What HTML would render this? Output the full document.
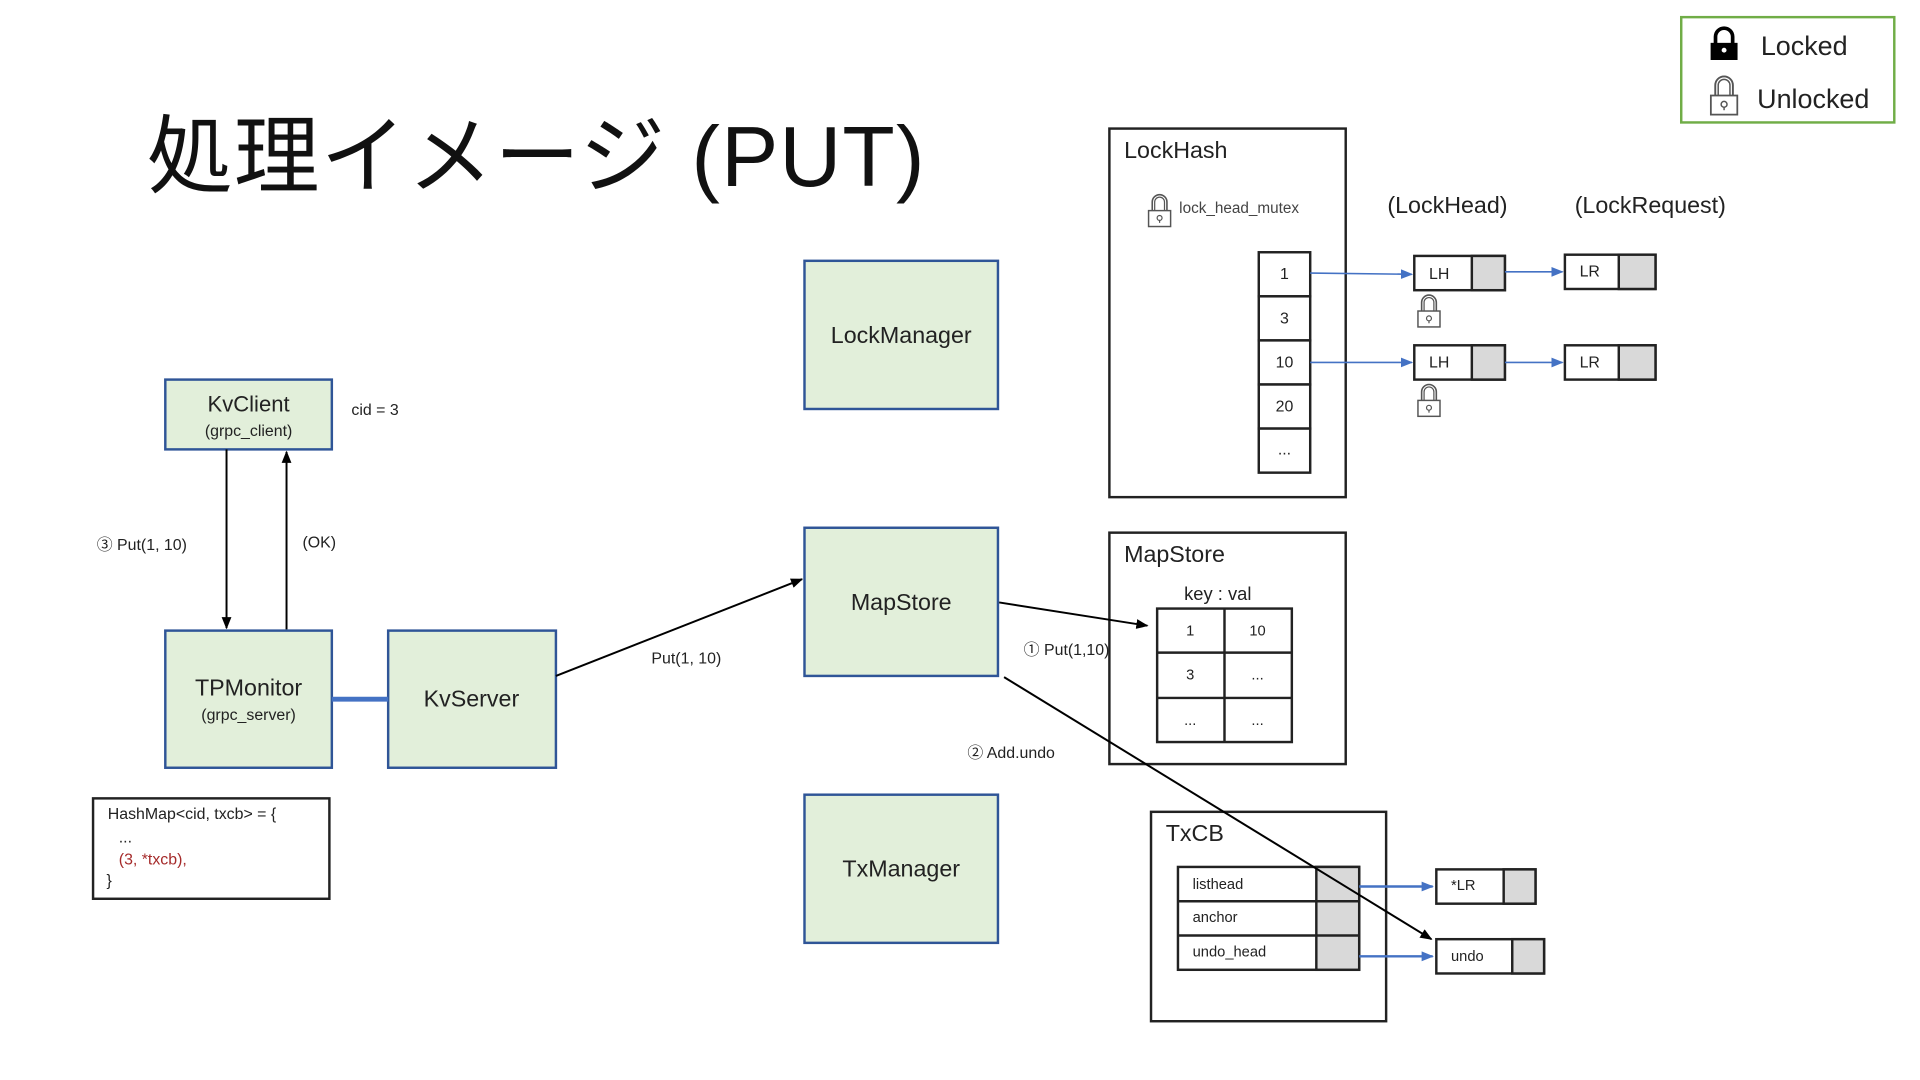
<!DOCTYPE html>
<html><head><meta charset="utf-8"><style>
html,body{margin:0;padding:0;background:#fff;width:1920px;height:1080px;overflow:hidden}
svg{display:block}
text{font-family:"Liberation Sans","Noto Sans CJK JP",sans-serif;fill:#222}
</style></head><body>
<svg width="1920" height="1080" viewBox="0 0 1568 882" xmlns="http://www.w3.org/2000/svg">
<defs>
<marker id="ab" markerWidth="10" markerHeight="10" refX="9" refY="5" orient="auto" markerUnits="userSpaceOnUse"><path d="M0,1 L10,5 L0,9 z" fill="#000"/></marker>
<marker id="abl" markerWidth="10" markerHeight="10" refX="9" refY="5" orient="auto" markerUnits="userSpaceOnUse"><path d="M0,1 L10,5 L0,9 z" fill="#4472c4"/></marker>
<g id="lk"><path d="M-6,0 V-7 A6,6 0 0 1 6,-7 V0" fill="none" stroke="#555" stroke-width="1.3"/><path d="M-4,0 V-7 A4,4 0 0 1 4,-7 V0" fill="none" stroke="#555" stroke-width="1"/><rect x="-9" y="0" width="18" height="13" fill="#fff" stroke="#555" stroke-width="1.2"/><circle cx="0" cy="6" r="2" fill="none" stroke="#555"/><line x1="0" y1="8" x2="0" y2="10" stroke="#555"/></g>
</defs>

<rect x="1373" y="14" width="174" height="86" fill="#fff" stroke="#70ad47" stroke-width="2"/>
<path d="M1401,36 V30 A7,7 0 0 1 1415,30 V36" fill="none" stroke="#000" stroke-width="3"/>
<rect x="1397" y="35" width="22" height="14" fill="#000"/>
<circle cx="1408" cy="41" r="2" fill="#fff"/>
<text x="1438" y="45" font-size="22">Locked</text>
<use href="#lk" x="1408" y="78" transform="translate(1408 78) scale(1.2) translate(-1408 -78)"/>
<text x="1435" y="88" font-size="22">Unlocked</text>

<text x="120" y="152" font-size="70" style="fill:#111" textLength="635">処理イメージ (PUT)</text>

<rect x="906" y="105" width="193" height="301" fill="#fff" stroke="#222" stroke-width="2"/>
<text x="918" y="129" font-size="19">LockHash</text>
<use href="#lk" x="947" y="172"/>
<text x="963" y="174" font-size="12.5" style="fill:#444">lock_head_mutex</text>
<g stroke="#222" stroke-width="2" fill="#fff">
<rect x="1028" y="206" width="42" height="36"/><rect x="1028" y="242" width="42" height="36"/><rect x="1028" y="278" width="42" height="36"/><rect x="1028" y="314" width="42" height="36"/><rect x="1028" y="350" width="42" height="36"/>
</g>
<g font-size="13" text-anchor="middle"><text x="1049" y="228">1</text><text x="1049" y="264">3</text><text x="1049" y="300">10</text><text x="1049" y="336">20</text><text x="1049" y="371">...</text></g>
<text x="1133" y="174" font-size="19">(LockHead)</text>
<text x="1286" y="174" font-size="19">(LockRequest)</text>
<g stroke="#222" stroke-width="2">
<rect x="1155" y="209" width="74" height="28" fill="#fff"/><rect x="1202" y="209" width="27" height="28" fill="#d9d9d9"/>
<rect x="1155" y="282" width="74" height="28" fill="#fff"/><rect x="1202" y="282" width="27" height="28" fill="#d9d9d9"/>
<rect x="1278" y="208" width="74" height="28" fill="#fff"/><rect x="1322" y="208" width="30" height="28" fill="#d9d9d9"/>
<rect x="1278" y="282" width="74" height="28" fill="#fff"/><rect x="1322" y="282" width="30" height="28" fill="#d9d9d9"/>
</g>
<g font-size="13"><text x="1167" y="228">LH</text><text x="1167" y="300">LH</text><text x="1290" y="226">LR</text><text x="1290" y="300">LR</text></g>
<g stroke="#4472c4" stroke-width="1.3">
<line x1="1070" y1="223" x2="1153" y2="224" marker-end="url(#abl)"/>
<line x1="1070" y1="296" x2="1153" y2="296" marker-end="url(#abl)"/>
<line x1="1229" y1="222" x2="1276" y2="222" marker-end="url(#abl)"/>
<line x1="1229" y1="296" x2="1276" y2="296" marker-end="url(#abl)"/>
</g>
<use href="#lk" x="1167" y="254"/>
<use href="#lk" x="1167" y="327"/>

<g fill="#e2efda" stroke="#2f5597" stroke-width="2">
<rect x="657" y="213" width="158" height="121"/>
<rect x="657" y="431" width="158" height="121"/>
<rect x="657" y="649" width="158" height="121"/>
<rect x="135" y="310" width="136" height="57"/>
<rect x="135" y="515" width="136" height="112"/>
<rect x="317" y="515" width="137" height="112"/>
</g>
<g text-anchor="middle">
<text x="736" y="280" font-size="19">LockManager</text>
<text x="736" y="498" font-size="19">MapStore</text>
<text x="736" y="716" font-size="19">TxManager</text>
<text x="203" y="336" font-size="18">KvClient</text>
<text x="203" y="356" font-size="13">(grpc_client)</text>
<text x="203" y="568" font-size="19">TPMonitor</text>
<text x="203" y="588" font-size="13">(grpc_server)</text>
<text x="385" y="577" font-size="19">KvServer</text>
</g>
<line x1="271" y1="571" x2="317" y2="571" stroke="#4472c4" stroke-width="4"/>
<text x="287" y="339" font-size="13">cid = 3</text>
<line x1="185" y1="367" x2="185" y2="513" stroke="#000" stroke-width="1.6" marker-end="url(#ab)"/>
<line x1="234" y1="514" x2="234" y2="369" stroke="#000" stroke-width="1.6" marker-end="url(#ab)"/>
<text x="79" y="449" font-size="13">③ Put(1, 10)</text>
<text x="247" y="447" font-size="13">(OK)</text>

<rect x="76" y="652" width="193" height="82" fill="#fff" stroke="#222" stroke-width="2"/>
<text x="88" y="669" font-size="13">HashMap&lt;cid, txcb&gt; = {</text>
<text x="97" y="688" font-size="13">...</text>
<text x="97" y="706" font-size="13" style="fill:#a52a2a">(3, *txcb),</text>
<text x="87" y="723" font-size="13">}</text>

<line x1="454" y1="552" x2="655" y2="473" stroke="#000" stroke-width="1.6" marker-end="url(#ab)"/>
<text x="532" y="542" font-size="13">Put(1, 10)</text>

<rect x="906" y="435" width="193" height="189" fill="#fff" stroke="#222" stroke-width="2"/>
<text x="918" y="459" font-size="19">MapStore</text>
<text x="967" y="490" font-size="15">key : val</text>
<g stroke="#222" stroke-width="2" fill="#fff">
<rect x="945" y="497" width="110" height="109"/>
<line x1="1000" y1="497" x2="1000" y2="606"/><line x1="945" y1="533" x2="1055" y2="533"/><line x1="945" y1="570" x2="1055" y2="570"/>
</g>
<g font-size="12" text-anchor="middle"><text x="972" y="519">1</text><text x="1027" y="519">10</text><text x="972" y="555">3</text><text x="1027" y="555">...</text><text x="972" y="592">...</text><text x="1027" y="592">...</text></g>
<line x1="816" y1="492" x2="937" y2="511" stroke="#000" stroke-width="1.6" marker-end="url(#ab)"/>
<text x="836" y="535" font-size="13">① Put(1,10)</text>

<rect x="940" y="663" width="192" height="171" fill="#fff" stroke="#222" stroke-width="2"/>
<text x="952" y="687" font-size="19">TxCB</text>
<g stroke="#222" stroke-width="2">
<rect x="962" y="708" width="148" height="84" fill="#fff"/>
<rect x="1075" y="708" width="35" height="84" fill="#d9d9d9"/>
<line x1="962" y1="736" x2="1110" y2="736"/><line x1="962" y1="764" x2="1110" y2="764"/>
<rect x="1173" y="710" width="81" height="28" fill="#fff"/><rect x="1228" y="710" width="26" height="28" fill="#d9d9d9"/>
<rect x="1173" y="767" width="88" height="28" fill="#fff"/><rect x="1235" y="767" width="26" height="28" fill="#d9d9d9"/>
</g>
<g font-size="12"><text x="974" y="726">listhead</text><text x="974" y="753">anchor</text><text x="974" y="781">undo_head</text><text x="1185" y="727">*LR</text><text x="1185" y="785">undo</text></g>
<g stroke="#4472c4" stroke-width="2">
<line x1="1110" y1="724" x2="1170" y2="724" marker-end="url(#abl)"/>
<line x1="1110" y1="781" x2="1170" y2="781" marker-end="url(#abl)"/>
</g>
<line x1="820" y1="553" x2="1169" y2="767" stroke="#000" stroke-width="1.6" marker-end="url(#ab)"/>
<text x="790" y="619" font-size="13">② Add.undo</text>
</svg>
</body></html>
